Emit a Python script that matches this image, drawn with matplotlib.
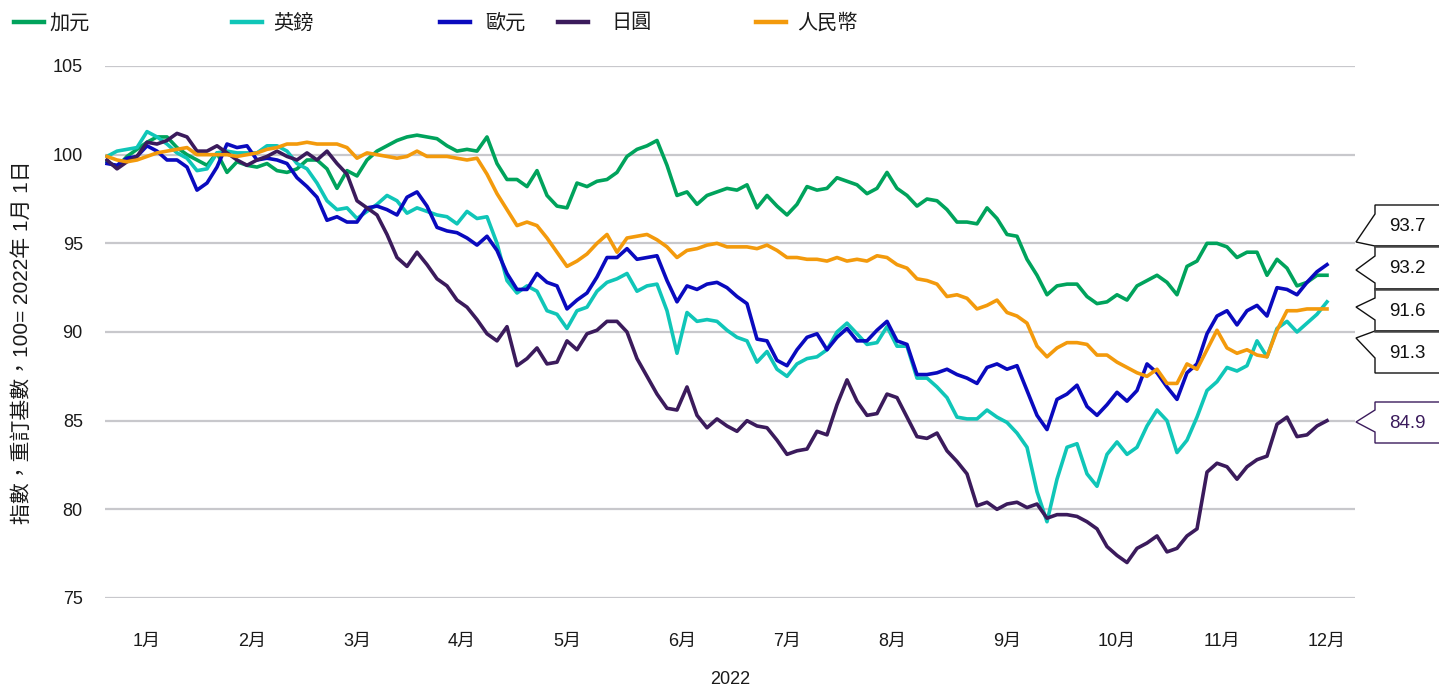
import matplotlib
matplotlib.use("Agg")
import matplotlib.pyplot as plt
from matplotlib.lines import Line2D
from matplotlib.patches import Polygon
import numpy as np

# ─── Canvas ──────────────────────────────────────────────────────────────────
DPI = 100
W, H = 1439, 688

plt.rcParams['font.family'] = ['Liberation Sans', 'Noto Sans CJK TC']

# ─── Colours ─────────────────────────────────────────────────────────────────
CAD_C = "#00A35C"
GBP_C = "#10C6B8"
EUR_C = "#0A0ABE"
JPY_C = "#3B1B5C"
CNY_C = "#F39A0C"
GRID = "#C8C8CC"
TEXT = "#1A1A1A"

# ─── Data: index (100 = 1 Jan 2022), sampled every 2 trading days ────────────
days = np.arange(0, 245, 2)

cad = [99.6, 99.3, 99.9, 100.3, 100.7, 101.0, 101.0, 100.4, 100.0, 99.7,
       99.4, 100.1, 99.0, 99.6, 99.4, 99.3, 99.5, 99.1, 99.0, 99.2,
       99.7, 99.7, 99.2, 98.1, 99.1, 98.8, 99.7, 100.2, 100.5, 100.8,
       101.0, 101.1, 101.0, 100.9, 100.5, 100.2, 100.3, 100.2, 101.0, 99.5,
       98.6, 98.6, 98.2, 99.1, 97.7, 97.1, 97.0, 98.4, 98.2, 98.5,
       98.6, 99.0, 99.9, 100.3, 100.5, 100.8, 99.4, 97.7, 97.9, 97.2,
       97.7, 97.9, 98.1, 98.0, 98.3, 97.0, 97.7, 97.1, 96.6, 97.2,
       98.2, 98.0, 98.1, 98.7, 98.5, 98.3, 97.8, 98.1, 99.0, 98.1,
       97.7, 97.1, 97.5, 97.4, 96.9, 96.2, 96.2, 96.1, 97.0, 96.4,
       95.5, 95.4, 94.1, 93.2, 92.1, 92.6, 92.7, 92.7, 92.0, 91.6,
       91.7, 92.1, 91.8, 92.6, 92.9, 93.2, 92.8, 92.1, 93.7, 94.0,
       95.0, 95.0, 94.8, 94.2, 94.5, 94.5, 93.2, 94.1, 93.6, 92.6,
       92.8, 93.2, 93.2]

gbp = [99.9, 100.2, 100.3, 100.4, 101.3, 101.0, 100.6, 100.1, 99.8, 99.1,
       99.2, 100.1, 100.2, 100.1, 100.1, 100.1, 100.5, 100.5, 100.2, 99.5,
       99.2, 98.4, 97.4, 96.9, 97.0, 96.4, 96.8, 97.2, 97.7, 97.4,
       96.7, 97.0, 96.8, 96.6, 96.5, 96.1, 96.8, 96.4, 96.5, 95.0,
       92.9, 92.2, 92.6, 92.3, 91.2, 91.0, 90.2, 91.2, 91.4, 92.3,
       92.8, 93.0, 93.3, 92.3, 92.6, 92.7, 91.2, 88.8, 91.1, 90.6,
       90.7, 90.6, 90.1, 89.7, 89.5, 88.3, 88.9, 87.9, 87.5, 88.2,
       88.5, 88.6, 89.0, 90.0, 90.5, 89.9, 89.3, 89.4, 90.3, 89.2,
       89.2, 87.4, 87.4, 86.9, 86.3, 85.2, 85.1, 85.1, 85.6, 85.2,
       84.9, 84.3, 83.5, 81.0, 79.3, 81.7, 83.5, 83.7, 82.0, 81.3,
       83.1, 83.8, 83.1, 83.5, 84.7, 85.6, 85.0, 83.2, 83.9, 85.2,
       86.7, 87.2, 88.0, 87.8, 88.1, 89.5, 88.6, 90.2, 90.6, 90.0,
       90.5, 91.0, 91.7]

eur = [99.5, 99.4, 99.8, 99.9, 100.5, 100.2, 99.7, 99.7, 99.3, 98.0,
       98.4, 99.3, 100.6, 100.4, 100.5, 99.7, 99.8, 99.7, 99.5, 98.7,
       98.2, 97.6, 96.3, 96.5, 96.2, 96.2, 97.0, 97.1, 96.9, 96.6,
       97.6, 97.9, 97.1, 95.9, 95.7, 95.6, 95.3, 94.9, 95.4, 94.6,
       93.3, 92.4, 92.4, 93.3, 92.8, 92.6, 91.3, 91.8, 92.2, 93.1,
       94.2, 94.2, 94.7, 94.1, 94.2, 94.3, 92.9, 91.7, 92.6, 92.4,
       92.7, 92.8, 92.5, 92.0, 91.6, 89.6, 89.5, 88.4, 88.1, 89.0,
       89.7, 89.9, 89.0, 89.7, 90.2, 89.5, 89.5, 90.1, 90.6, 89.5,
       89.3, 87.6, 87.6, 87.7, 87.9, 87.6, 87.4, 87.1, 88.0, 88.2,
       87.9, 88.1, 86.7, 85.3, 84.5, 86.2, 86.5, 87.0, 85.8, 85.3,
       85.9, 86.6, 86.1, 86.7, 88.2, 87.7, 86.9, 86.2, 87.7, 88.2,
       89.9, 90.9, 91.2, 90.4, 91.2, 91.5, 90.9, 92.5, 92.4, 92.1,
       92.8, 93.4, 93.8]

jpy = [99.7, 99.2, 99.6, 99.9, 100.7, 100.6, 100.8, 101.2, 101.0, 100.2,
       100.2, 100.5, 100.1, 99.7, 99.4, 99.7, 99.9, 100.2, 99.9, 99.7,
       100.1, 99.7, 100.2, 99.5, 98.9, 97.4, 97.0, 96.6, 95.5, 94.2,
       93.7, 94.5, 93.8, 93.0, 92.6, 91.8, 91.4, 90.7, 89.9, 89.5,
       90.3, 88.1, 88.5, 89.1, 88.2, 88.3, 89.5, 89.0, 89.9, 90.1,
       90.6, 90.6, 90.0, 88.5, 87.5, 86.5, 85.7, 85.6, 86.9, 85.3,
       84.6, 85.1, 84.7, 84.4, 85.0, 84.7, 84.6, 83.9, 83.1, 83.3,
       83.4, 84.4, 84.2, 85.9, 87.3, 86.1, 85.3, 85.4, 86.5, 86.3,
       85.2, 84.1, 84.0, 84.3, 83.3, 82.7, 82.0, 80.2, 80.4, 80.0,
       80.3, 80.4, 80.1, 80.3, 79.5, 79.7, 79.7, 79.6, 79.3, 78.9,
       77.9, 77.4, 77.0, 77.8, 78.1, 78.5, 77.6, 77.8, 78.5, 78.9,
       82.1, 82.6, 82.4, 81.7, 82.4, 82.8, 83.0, 84.8, 85.2, 84.1,
       84.2, 84.7, 85.0]

cny = [99.9, 99.7, 99.6, 99.7, 99.9, 100.1, 100.2, 100.3, 100.4, 100.0,
       100.0, 100.0, 100.0, 99.9, 100.0, 100.1, 100.3, 100.4, 100.6, 100.6,
       100.7, 100.6, 100.6, 100.6, 100.4, 99.8, 100.1, 100.0, 99.9, 99.8,
       99.9, 100.2, 99.9, 99.9, 99.9, 99.8, 99.7, 99.8, 98.9, 97.8,
       96.9, 96.0, 96.2, 96.0, 95.3, 94.5, 93.7, 94.0, 94.4, 95.0,
       95.5, 94.5, 95.3, 95.4, 95.5, 95.2, 94.8, 94.2, 94.6, 94.7,
       94.9, 95.0, 94.8, 94.8, 94.8, 94.7, 94.9, 94.6, 94.2, 94.2,
       94.1, 94.1, 94.0, 94.2, 94.0, 94.1, 94.0, 94.3, 94.2, 93.8,
       93.6, 93.0, 92.9, 92.7, 92.0, 92.1, 91.9, 91.3, 91.5, 91.8,
       91.1, 90.9, 90.5, 89.2, 88.6, 89.1, 89.4, 89.4, 89.3, 88.7,
       88.7, 88.3, 88.0, 87.7, 87.5, 87.9, 87.1, 87.1, 88.2, 87.9,
       89.0, 90.1, 89.1, 88.8, 89.0, 88.7, 88.6, 90.1, 91.2, 91.2,
       91.3, 91.3, 91.3]

series_names = ["加元", "英鎊", "歐元", "日圓", "人民幣"]
series_vals = [cad, gbp, eur, jpy, cny]
series_cols = [CAD_C, GBP_C, EUR_C, JPY_C, CNY_C]

month_pos = [8, 29, 50, 71, 92, 115, 136, 157, 180, 202, 223, 244]
month_labels = ["1月", "2月", "3月", "4月", "5月", "6月",
                "7月", "8月", "9月", "10月", "11月", "12月"]

y_ticks = [75, 80, 85, 90, 95, 100, 105]

# end-of-period callouts (top to bottom)
callout_vals = ["93.7", "93.2", "91.6", "91.3", "84.9"]


def px(x, y):
    """Pixel (top-left origin) -> figure fraction."""
    return x / W, 1 - y / H


# ─── Figure ──────────────────────────────────────────────────────────────────
fig = plt.figure(figsize=(W / DPI, H / DPI), dpi=DPI)
fig.patch.set_facecolor("white")

ax = fig.add_axes([105 / W, 1 - 598 / H, (1355 - 105) / W, (598 - 66) / H])
for name, vals, col in zip(series_names, series_vals, series_cols):
    ax.plot(days, vals, color=col, lw=2.6, label=name, zorder=3)

ax.set_xlim(-0.4, 249.6)
ax.set_ylim(75, 105)
ax.set_yticks(y_ticks)
ax.set_xticks(month_pos)
ax.set_xticklabels(month_labels)
ax.grid(axis="y", color=GRID, lw=1.6, zorder=0)
ax.set_axisbelow(True)
for s in ax.spines.values():
    s.set_visible(False)
ax.tick_params(axis="y", length=0, pad=16, labelsize=13, labelcolor=TEXT)
ax.tick_params(axis="x", length=0, pad=25, labelsize=13, labelcolor=TEXT)

# year label under the month ticks
fig.text(*px(730, 680), "2022", ha="center", va="center", fontsize=13, color=TEXT)

fig.text(*px(22, 342), "指數，重訂基數，100= 2022年 1月 1日",
         rotation=90, ha="center", va="center", fontsize=15, color=TEXT)

# ─── Legend (manual, uneven spacing as in reference) ─────────────────────────
leg_x = [(14, 44, 49), (232, 262, 273), (440, 470, 485), (558, 588, 611), (756, 786, 797)]
for (x0, x1, xt), name, col in zip(leg_x, series_names, series_cols):
    fig.add_artist(Line2D([x0 / W, x1 / W], [1 - 22 / H] * 2, color=col, lw=3.2,
                          transform=fig.transFigure))
    fig.text(*px(xt, 23), name, ha="left", va="center", fontsize=14.5, color=TEXT)

# ─── Callouts on the right ───────────────────────────────────────────────────
ov = fig.add_axes([0, 0, 1, 1], zorder=5)
ov.set_xlim(0, W)
ov.set_ylim(H, 0)
ov.axis("off")
ov.patch.set_visible(False)

BOX_L, BOX_R, TIP_X = 1375, 1450, 1356
# (top, bottom, pointer start, tip y, pointer end)
boxes = [(205, 246, 214, 242, 246),
         (246, 289, 256, 270, 283),
         (289, 331, 298, 307, 320),
         (331, 373, 331, 338, 358),
         (402, 443, 410, 422, 432)]
for i, ((top, bot, pa, ty, pb), lab) in enumerate(zip(boxes, callout_vals)):
    ec = JPY_C if i == 4 else "#111111"
    poly = Polygon([(BOX_L, top), (BOX_R, top), (BOX_R, bot), (BOX_L, bot),
                    (BOX_L, pb), (TIP_X, ty), (BOX_L, pa)],
                   closed=True, facecolor="white", edgecolor=ec, lw=1.0)
    ov.add_patch(poly)
    ov.text(1407, (top + bot) / 2 + 1, lab, ha="center", va="center",
            fontsize=13.5, color=ec)
# darker separators between stacked boxes
for y in (246, 289, 331):
    ov.plot([BOX_L, BOX_R], [y, y], color="#444444", lw=1.8)

fig.savefig("out.png", dpi=DPI, facecolor="white")
